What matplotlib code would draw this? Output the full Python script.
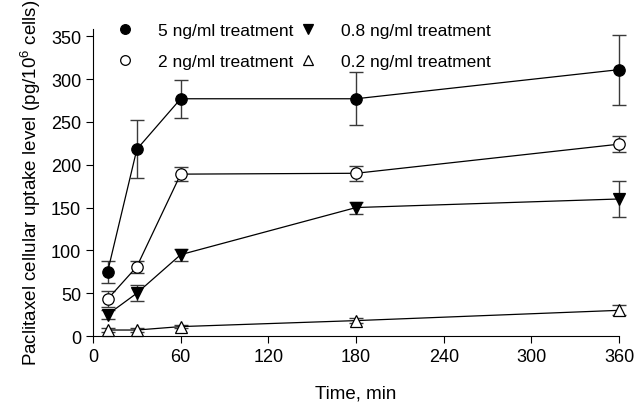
import matplotlib
matplotlib.use("Agg")
import matplotlib.pyplot as plt

plt.rcParams["font.family"] = ["Liberation Sans", "DejaVu Sans"]
plt.rcParams["mathtext.fontset"] = "custom"
plt.rcParams["mathtext.rm"] = "Liberation Sans"

# sampling times, minutes
TIME = [10, 30, 60, 180, 360]

# uptake (pg/10^6 cells) and error bars, per dose
UP_5 = [75, 218, 277, 277, 311]
ERR_5 = [13, 34, 22, 31, 41]
UP_2 = [43, 81, 189, 190, 224]
ERR_2 = [9, 7, 8, 9, 9]
UP_08 = [25, 50, 95, 150, 160]
ERR_08 = [5, 9, 7, 7, 21]
UP_02 = [7, 7, 11, 18, 30]
ERR_02 = [2, 2, 2, 3, 6]

fig = plt.figure(figsize=(6.37, 4.10), dpi=100)
ax = fig.add_axes([0.146, 0.178, 0.826, 0.75])

series = [
    ("5 ng/ml treatment", UP_5, ERR_5, "o", "black"),
    ("2 ng/ml treatment", UP_2, ERR_2, "o", "white"),
    ("0.8 ng/ml treatment", UP_08, ERR_08, "v", "black"),
    ("0.2 ng/ml treatment", UP_02, ERR_02, "^", "white"),
]
handles = []
for lbl, y, e, m, fc in series:
    ax.errorbar(TIME, y, yerr=e, fmt="none", ecolor="#3a3a3a", elinewidth=1.0,
                capsize=5, capthick=1.0, zorder=2, clip_on=False)
    ln, = ax.plot(TIME, y, "-", color="black", lw=0.9, marker=m,
                  ms=8.2 if m == "o" else 8.8,
                  mfc=fc, mec="black", mew=0.9, zorder=3, label=lbl, clip_on=False)
    handles.append(ln)

leg = ax.legend(handles, [s[0] for s in series], ncol=2, loc="upper left",
                bbox_to_anchor=(0.012, 1.07), frameon=False, fontsize=12.5,
                handlelength=1.2, columnspacing=0.2, labelspacing=0.92,
                handletextpad=1.3, markerscale=0.85)
for h in leg.legend_handles:
    h.set_linestyle("none")

ax.set_xlim(0, 360)
ax.set_ylim(0, 359)
ax.set_xticks([0, 60, 120, 180, 240, 300, 360])
ax.set_yticks([0, 50, 100, 150, 200, 250, 300, 350])
ax.spines["top"].set_visible(False)
ax.spines["right"].set_visible(False)
ax.tick_params(direction="out", length=5, labelsize=13)
ax.set_xlabel("Time, min", fontsize=13.5, labelpad=14)
ax.set_ylabel("Paclitaxel cellular uptake level (pg/10$^{6}$ cells)", fontsize=13.5,
              labelpad=6)

fig.savefig("out.png", dpi=100)
